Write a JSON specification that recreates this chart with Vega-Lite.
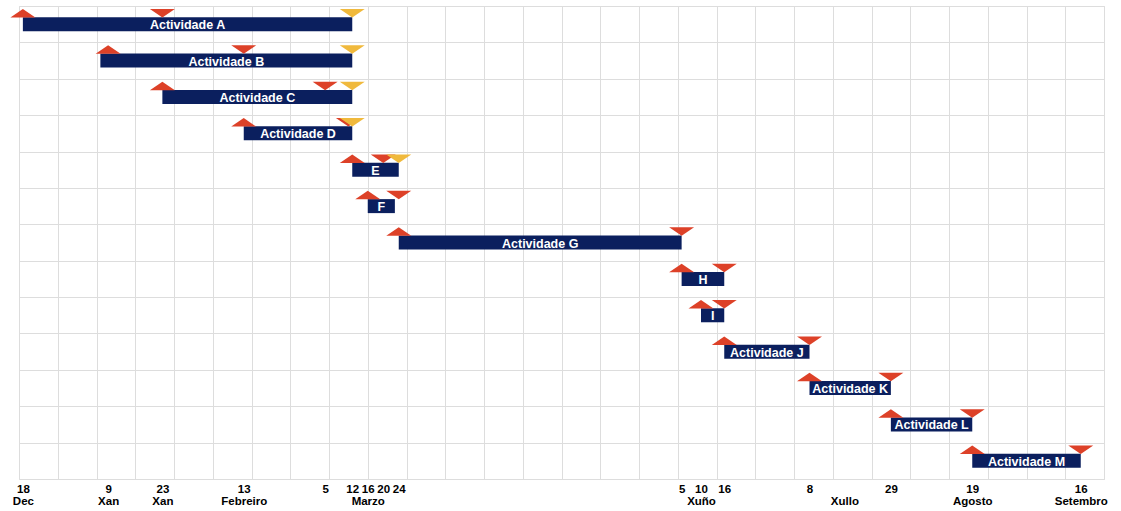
{
  "$schema": "https://vega.github.io/schema/vega-lite/v6.json",
  "width": 1085,
  "height": 473,
  "autosize": {"type": "none"},
  "padding": {"left": 19, "top": 6, "right": 17, "bottom": 32},
  "background": "white",
  "config": {
    "view": {"stroke": "#dddddd", "strokeWidth": 1},
    "font": "Liberation Sans"
  },
  "datasets": {
    "activities": [
      {"id": "A", "label": "Actividade A", "start": "2023-12-18T00:00", "end": "2024-03-12T00:00"},
      {"id": "B", "label": "Actividade B", "start": "2024-01-07T00:00", "end": "2024-03-12T00:00"},
      {"id": "C", "label": "Actividade C", "start": "2024-01-23T00:00", "end": "2024-03-12T00:00"},
      {"id": "D", "label": "Actividade D", "start": "2024-02-13T00:00", "end": "2024-03-12T00:00"},
      {"id": "E", "label": "E", "start": "2024-03-12T00:00", "end": "2024-03-24T00:00"},
      {"id": "F", "label": "F", "start": "2024-03-16T00:00", "end": "2024-03-23T00:00"},
      {"id": "G", "label": "Actividade G", "start": "2024-03-24T00:00", "end": "2024-06-05T00:00"},
      {"id": "H", "label": "H", "start": "2024-06-05T00:00", "end": "2024-06-16T00:00"},
      {"id": "I", "label": "I", "start": "2024-06-10T00:00", "end": "2024-06-16T00:00"},
      {"id": "J", "label": "Actividade J", "start": "2024-06-16T00:00", "end": "2024-07-08T00:00"},
      {"id": "K", "label": "Actividade K", "start": "2024-07-08T00:00", "end": "2024-07-29T00:00"},
      {"id": "L", "label": "Actividade L", "start": "2024-07-29T00:00", "end": "2024-08-19T00:00"},
      {"id": "M", "label": "Actividade M", "start": "2024-08-19T00:00", "end": "2024-09-16T00:00"}
    ],
    "milestones": [
      {"id": "A", "kind": "inicio", "date": "2023-12-18T00:00"},
      {"id": "A", "kind": "fito", "date": "2024-01-23T00:00"},
      {"id": "B", "kind": "inicio", "date": "2024-01-09T00:00"},
      {"id": "B", "kind": "fito", "date": "2024-02-13T00:00"},
      {"id": "C", "kind": "inicio", "date": "2024-01-23T00:00"},
      {"id": "C", "kind": "fito", "date": "2024-03-05T00:00"},
      {"id": "D", "kind": "inicio", "date": "2024-02-13T00:00"},
      {"id": "D", "kind": "fito", "date": "2024-03-11T00:00"},
      {"id": "E", "kind": "inicio", "date": "2024-03-12T00:00"},
      {"id": "E", "kind": "fito", "date": "2024-03-20T00:00"},
      {"id": "F", "kind": "inicio", "date": "2024-03-16T00:00"},
      {"id": "F", "kind": "fito", "date": "2024-03-24T00:00"},
      {"id": "G", "kind": "inicio", "date": "2024-03-24T00:00"},
      {"id": "G", "kind": "fito", "date": "2024-06-05T00:00"},
      {"id": "H", "kind": "inicio", "date": "2024-06-05T00:00"},
      {"id": "H", "kind": "fito", "date": "2024-06-16T00:00"},
      {"id": "I", "kind": "inicio", "date": "2024-06-10T00:00"},
      {"id": "I", "kind": "fito", "date": "2024-06-16T00:00"},
      {"id": "J", "kind": "inicio", "date": "2024-06-16T00:00"},
      {"id": "J", "kind": "fito", "date": "2024-07-08T00:00"},
      {"id": "K", "kind": "inicio", "date": "2024-07-08T00:00"},
      {"id": "K", "kind": "fito", "date": "2024-07-29T00:00"},
      {"id": "L", "kind": "inicio", "date": "2024-07-29T00:00"},
      {"id": "L", "kind": "fito", "date": "2024-08-19T00:00"},
      {"id": "M", "kind": "inicio", "date": "2024-08-19T00:00"},
      {"id": "M", "kind": "fito", "date": "2024-09-16T00:00"},
      {"id": "A", "kind": "prazo", "date": "2024-03-12T00:00"},
      {"id": "B", "kind": "prazo", "date": "2024-03-12T00:00"},
      {"id": "C", "kind": "prazo", "date": "2024-03-12T00:00"},
      {"id": "D", "kind": "prazo", "date": "2024-03-12T00:00"},
      {"id": "E", "kind": "prazo", "date": "2024-03-24T00:00"}
    ]
  },
  "encoding": {
    "y": {
      "field": "id",
      "type": "nominal",
      "scale": {
        "domain": ["A", "B", "C", "D", "E", "F", "G", "H", "I", "J", "K", "L", "M"],
        "paddingInner": 0,
        "paddingOuter": 0
      },
      "axis": {
        "title": null,
        "labels": false,
        "ticks": false,
        "domain": false,
        "grid": true,
        "tickBand": "extent",
        "gridColor": "#dddddd",
        "gridWidth": 1
      }
    }
  },
  "layer": [
    {
      "data": {"name": "activities"},
      "mark": {"type": "bar", "height": 14, "color": "#0b1f5e", "cornerRadius": 0},
      "encoding": {
        "x": {
          "field": "start",
          "type": "temporal",
          "scale": {
            "domain": [
              {"year": 2023, "month": 12, "date": 17},
              {"year": 2024, "month": 9, "date": 22}
            ]
          },
          "axis": {
            "orient": "bottom",
            "title": null,
            "grid": false,
            "ticks": false,
            "domain": false,
            "labelOverlap": false,
            "labelFlush": false,
            "labelBound": false,
            "labelFont": "Liberation Sans",
            "labelFontWeight": "bold",
            "labelFontSize": 11.5,
            "labelColor": "#000000",
            "labelLineHeight": 12.5,
            "labelPadding": 4,
            "labelAlign": "center",
            "labelBaseline": "top",
            "values": [
              {"year": 2023, "month": 12, "date": 18},
              {"year": 2024, "month": 1, "date": 9},
              {"year": 2024, "month": 1, "date": 23},
              {"year": 2024, "month": 2, "date": 13},
              {"year": 2024, "month": 3, "date": 5},
              {"year": 2024, "month": 3, "date": 12},
              {"year": 2024, "month": 3, "date": 16},
              {"year": 2024, "month": 3, "date": 20},
              {"year": 2024, "month": 3, "date": 24},
              {"year": 2024, "month": 6, "date": 5},
              {"year": 2024, "month": 6, "date": 10},
              {"year": 2024, "month": 6, "date": 16},
              {"year": 2024, "month": 7, "date": 8},
              {"year": 2024, "month": 7, "date": 17},
              {"year": 2024, "month": 7, "date": 29},
              {"year": 2024, "month": 8, "date": 19},
              {"year": 2024, "month": 9, "date": 16}
            ],
            "labelExpr": "{'12-18': ['18', 'Dec'], '01-09': ['9', 'Xan'], '01-23': ['23', 'Xan'], '02-13': ['13', 'Febreiro'], '03-16': ['16', 'Marzo'], '06-10': ['10', 'Xuño'], '07-17': [' ', 'Xullo'], '08-19': ['19', 'Agosto'], '09-16': ['16', 'Setembro']}[timeFormat(datum.value, '%m-%d')] || timeFormat(datum.value, '%-d')"
          }
        },
        "x2": {"field": "end"}
      }
    },
    {
      "data": {"name": "activities"},
      "transform": [
        {"calculate": "(time(datum.start) + time(datum.end)) / 2", "as": "mid"}
      ],
      "mark": {
        "type": "text",
        "color": "white",
        "font": "Liberation Sans",
        "fontWeight": "bold",
        "fontSize": 12.5,
        "align": "center",
        "baseline": "middle",
        "dy": 1
      },
      "encoding": {
        "x": {"field": "mid", "type": "temporal", "axis": null},
        "text": {"field": "label"}
      }
    },
    {
      "data": {"name": "milestones"},
      "mark": {
        "type": "point",
        "filled": true,
        "size": 625,
        "opacity": 1,
        "strokeWidth": 0,
        "yOffset": -11
      },
      "encoding": {
        "x": {
          "field": "date",
          "type": "temporal",
          "axis": {
            "orient": "top",
            "title": null,
            "labels": false,
            "ticks": false,
            "domain": false,
            "grid": true,
            "gridColor": "#dddddd",
            "gridWidth": 1,
            "values": [
              {"year": 2023, "month": 12, "date": 17},
              {"year": 2023, "month": 12, "date": 27},
              {"year": 2024, "month": 1, "date": 6},
              {"year": 2024, "month": 1, "date": 16},
              {"year": 2024, "month": 1, "date": 26},
              {"year": 2024, "month": 2, "date": 5},
              {"year": 2024, "month": 2, "date": 15},
              {"year": 2024, "month": 2, "date": 25},
              {"year": 2024, "month": 3, "date": 6},
              {"year": 2024, "month": 3, "date": 16},
              {"year": 2024, "month": 3, "date": 26},
              {"year": 2024, "month": 4, "date": 5},
              {"year": 2024, "month": 4, "date": 15},
              {"year": 2024, "month": 4, "date": 25},
              {"year": 2024, "month": 5, "date": 5},
              {"year": 2024, "month": 5, "date": 15},
              {"year": 2024, "month": 5, "date": 25},
              {"year": 2024, "month": 6, "date": 4},
              {"year": 2024, "month": 6, "date": 14},
              {"year": 2024, "month": 6, "date": 24},
              {"year": 2024, "month": 7, "date": 4},
              {"year": 2024, "month": 7, "date": 14},
              {"year": 2024, "month": 7, "date": 24},
              {"year": 2024, "month": 8, "date": 3},
              {"year": 2024, "month": 8, "date": 13},
              {"year": 2024, "month": 8, "date": 23},
              {"year": 2024, "month": 9, "date": 2},
              {"year": 2024, "month": 9, "date": 12},
              {"year": 2024, "month": 9, "date": 22}
            ]
          }
        },
        "shape": {
          "field": "kind",
          "type": "nominal",
          "legend": null,
          "scale": {
            "domain": ["inicio", "fito", "prazo"],
            "range": [
              "M-1,0.34L1,0.34L0,-0.34Z",
              "M-1,-0.34L1,-0.34L0,0.34Z",
              "M-1,-0.34L1,-0.34L0,0.34Z"
            ]
          }
        },
        "color": {
          "field": "kind",
          "type": "nominal",
          "legend": null,
          "scale": {
            "domain": ["inicio", "fito", "prazo"],
            "range": ["#dd4128", "#dd4128", "#f0b93c"]
          }
        }
      }
    }
  ],
  "resolve": {"axis": {"x": "independent"}}
}
